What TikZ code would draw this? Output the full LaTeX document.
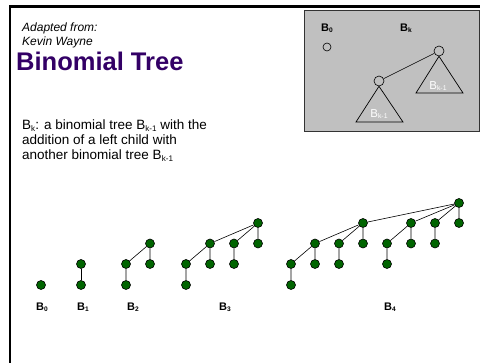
\documentclass[tikz,border=0pt]{standalone}
\usepackage{fontspec}
\setmainfont{Liberation Sans}
\setsansfont{Liberation Sans}
\definecolor{titlepurple}{RGB}{51,0,102}
\definecolor{nodegreen}{RGB}{0,100,0}
\definecolor{boxgray}{RGB}{192,192,192}
\newcommand{\sbs}[1]{\raisebox{-0.2ex}{\scalebox{0.6}{#1}}}
\begin{document}
\begin{tikzpicture}[x=1pt,y=-1pt,
  tn/.style={circle,draw=black,fill=nodegreen,line width=0.6pt,minimum size=9pt,inner sep=0pt},
  te/.style={black,line width=0.6pt},
  lbl/.style={font=\fontsize{11}{12}\selectfont\bfseries,inner sep=0pt},
  hollow/.style={circle,draw=black,fill=none,line width=0.6pt,inner sep=0pt},
  tri/.style={draw=black,line width=0.7pt},
  dtxt/.style={anchor=base west,font=\fontsize{13.5}{15}\selectfont,inner sep=0pt}]
\useasboundingbox (0,0) rectangle (480,363);
\fill[white] (0,0) rectangle (480,363);
% frame
\draw[line width=2.5pt] (10,363) -- (10,6.5) -- (480,6.5);
% gray box
\draw[fill=boxgray,draw=black!80,line width=0.8pt] (304,10) rectangle (479,131);
\node[lbl] (b0s) at (327,28) {B\sbs{0}};
\node[hollow,minimum size=8pt] (c0) at (327,47) {};
\node[lbl] (bks) at (406,28) {B\sbs{k}};
\node[hollow,minimum size=10pt] (rt) at (439,51) {};
\node[hollow,minimum size=10pt] (lc) at (379,81) {};
\draw[te] (rt) -- (lc);
\coordinate (rA) at (rt.south);
\coordinate (rL) at (416,93);
\coordinate (rR) at (463,93);
\draw[tri] (rL) -- (rA) -- (rR) -- cycle;
\coordinate (lA) at (lc.south);
\coordinate (lL) at (356,122);
\coordinate (lR) at (403,122);
\draw[tri] (lL) -- (lA) -- (lR) -- cycle;
\node[white,font=\fontsize{11.5}{12}\selectfont,inner sep=0pt] (tr1) at (438,86) {B\sbs{k-1}};
\node[white,font=\fontsize{11.5}{12}\selectfont,inner sep=0pt] (tr2) at (379,114) {B\sbs{k-1}};
% texts
\node[anchor=base west,font=\fontsize{12}{12}\selectfont\itshape,inner sep=0pt] (ad) at (22,32) {Adapted from:};
\node[anchor=base west,font=\fontsize{12}{12}\selectfont\itshape,inner sep=0pt] (kw) at (22,46) {Kevin Wayne};
\node[anchor=base west,font=\fontsize{25.5}{26}\selectfont\bfseries,text=titlepurple,inner sep=0pt] (ttl) at (16,71) {Binomial Tree};
\node[dtxt] (d1) at (22,130) {B\sbs{k}: a binomial tree B\sbs{k-1} with the};
\node[dtxt] (d2) at (22,145) {addition of a left child with};
\node[dtxt] (d3) at (22,160) {another binomial tree B\sbs{k-1}};
% B0
\node[tn] (a0) at (41,285) {};
% B1
\node[tn] (b1r) at (81,264) {};
\node[tn] (b1a) at (81,285) {};
\draw[te] (b1r) -- (b1a);
% B2
\node[tn] (c2r) at (150,243.5) {};
\node[tn] (c2a) at (126,264) {};
\node[tn] (c2b) at (150,264) {};
\node[tn] (c2c) at (126,285) {};
\draw[te] (c2r) -- (c2a) (c2r) -- (c2b) (c2a) -- (c2c);
% B3
\node[tn] (d3r) at (258,223) {};
\node[tn] (d3a) at (210,243.5) {};
\node[tn] (d3b) at (234,243.5) {};
\node[tn] (d3c) at (258,243.5) {};
\node[tn] (d3d) at (186,264) {};
\node[tn] (d3e) at (210,264) {};
\node[tn] (d3f) at (234,264) {};
\node[tn] (d3g) at (186,285) {};
\draw[te] (d3r) -- (d3a) (d3r) -- (d3b) (d3r) -- (d3c)
  (d3a) -- (d3d) (d3a) -- (d3e) (d3b) -- (d3f) (d3d) -- (d3g);
% B4
\node[tn] (e4r) at (459,203) {};
\node[tn] (e4a) at (363,223) {};
\node[tn] (e4b) at (411,223) {};
\node[tn] (e4c) at (435,223) {};
\node[tn] (e4d) at (459,223) {};
\node[tn] (e4e) at (315,243.5) {};
\node[tn] (e4f) at (339,243.5) {};
\node[tn] (e4g) at (363,243.5) {};
\node[tn] (e4h) at (387,243.5) {};
\node[tn] (e4i) at (411,243.5) {};
\node[tn] (e4j) at (435,243.5) {};
\node[tn] (e4k) at (291,264) {};
\node[tn] (e4l) at (315,264) {};
\node[tn] (e4m) at (339,264) {};
\node[tn] (e4n) at (387,264) {};
\node[tn] (e4o) at (291,285) {};
\draw[te] (e4r) -- (e4a) (e4r) -- (e4b) (e4r) -- (e4c) (e4r) -- (e4d)
  (e4a) -- (e4e) (e4a) -- (e4f) (e4a) -- (e4g)
  (e4b) -- (e4h) (e4b) -- (e4i) (e4c) -- (e4j)
  (e4e) -- (e4k) (e4e) -- (e4l) (e4f) -- (e4m) (e4h) -- (e4n)
  (e4k) -- (e4o);
% labels
\node[lbl] (l0) at (42,307) {B\sbs{0}};
\node[lbl] (l1) at (83,307) {B\sbs{1}};
\node[lbl] (l2) at (133,307) {B\sbs{2}};
\node[lbl] (l3) at (225,307) {B\sbs{3}};
\node[lbl] (l4) at (390,307) {B\sbs{4}};
\end{tikzpicture}
\end{document}
